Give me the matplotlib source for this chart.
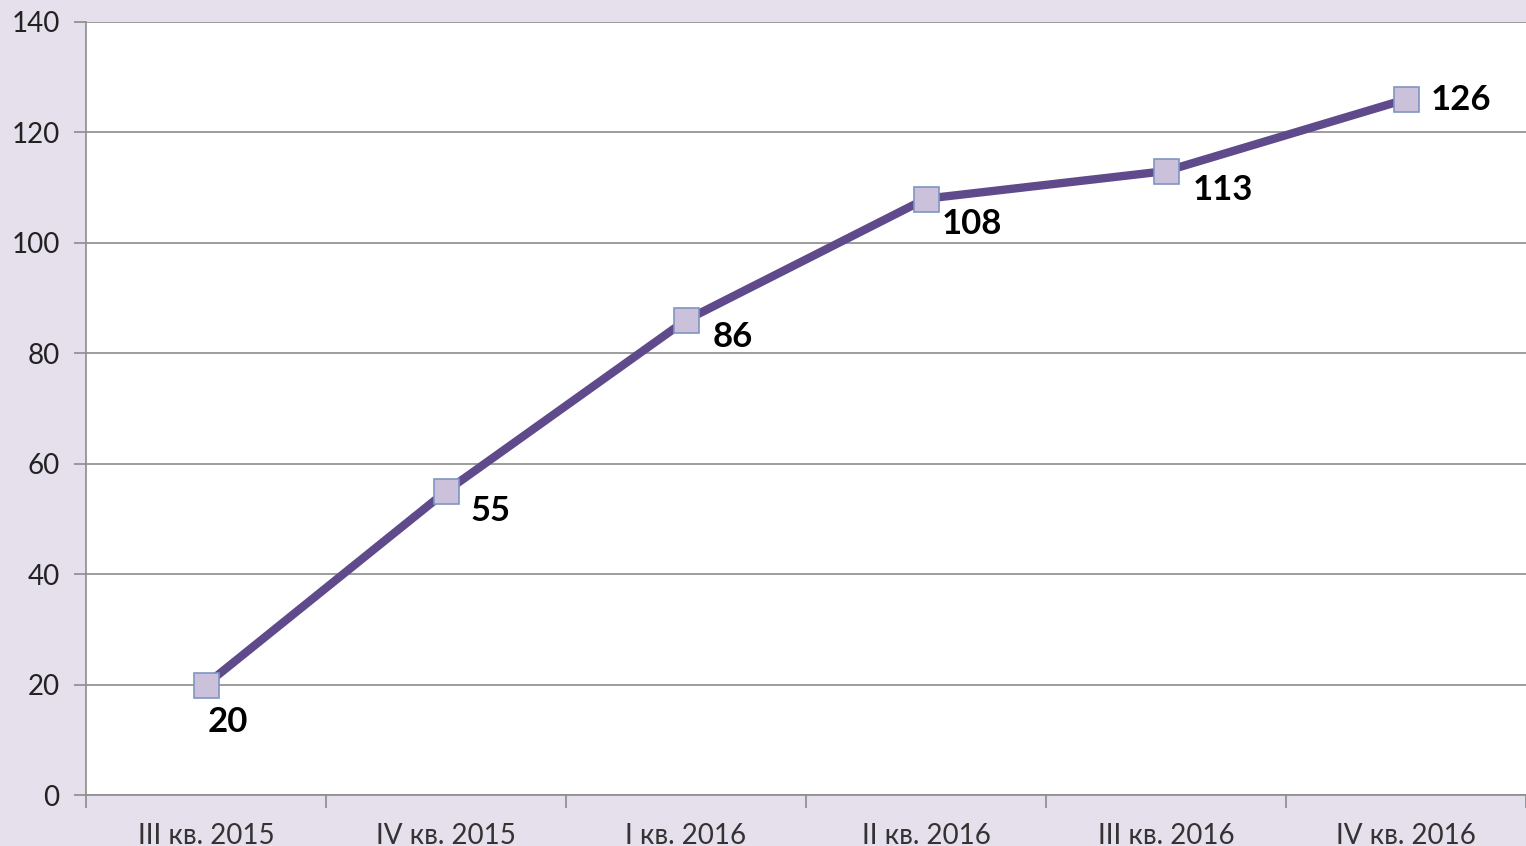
import numpy as np
import matplotlib.pyplot as plt

# данные
quarters = ["III кв. 2015", "IV кв. 2015", "I кв. 2016", "II кв. 2016", "III кв. 2016", "IV кв. 2016"]
values = [20, 55, 86, 108, 113, 126]
# смещения подписей (пиксели)
label_dx = [22, 45, 47, 46, 57, 55]
label_dy = [-37, -20, -17, -25, -19, -1]

plt.rcParams['font.family'] = ['Lato', 'DejaVu Sans']

bg = "#E5E0EC"
fig = plt.figure(figsize=(15.26, 8.46), dpi=100, facecolor=bg)
ax = fig.add_axes([86/1526, 51/846, 1440/1526, 773/846])
ax.set_facecolor("white")

x = np.arange(len(quarters))
ax.plot(x, values, color="#5F4A8B", lw=6, marker="s", markersize=18,
        markerfacecolor="#CCC1DA", markeredgecolor="#7F95C4", markeredgewidth=1.2,
        solid_capstyle="butt", zorder=3)

for xi, v, dx, dy in zip(x, values, label_dx, label_dy):
    ax.annotate(str(v), (xi, v), xytext=(dx, dy), textcoords="offset pixels",
                ha="center", va="center", fontsize=25, fontweight="bold",
                color="black", zorder=4)

ax.set_ylim(0, 140)
ax.set_xlim(-0.5, -0.5 + 1440/241.8)
ax.set_yticks(np.arange(0, 141, 20))
ax.yaxis.grid(True, color="#8C8C8C", lw=1.2)
ax.set_axisbelow(True)

ax.set_xticks(np.arange(-0.5, 6, 1))
ax.set_xticklabels([])
ax.set_xticks(x, minor=True)
ax.set_xticklabels(quarters, minor=True, fontsize=20, color="#333333")
ax.tick_params(axis="x", which="major", length=9, width=1.2, color="#8C8C8C", direction="out")
ax.tick_params(axis="x", which="minor", length=0, pad=20)
ax.tick_params(axis="y", length=9, width=1.2, color="#8C8C8C", labelsize=20,
               labelcolor="#222222", pad=10)

for s in ["top", "right"]:
    ax.spines[s].set_visible(False)
for s in ["left", "bottom"]:
    ax.spines[s].set_color("#8C8C8C")
    ax.spines[s].set_linewidth(1.2)

fig.savefig("out.png", dpi=100, facecolor=bg)
